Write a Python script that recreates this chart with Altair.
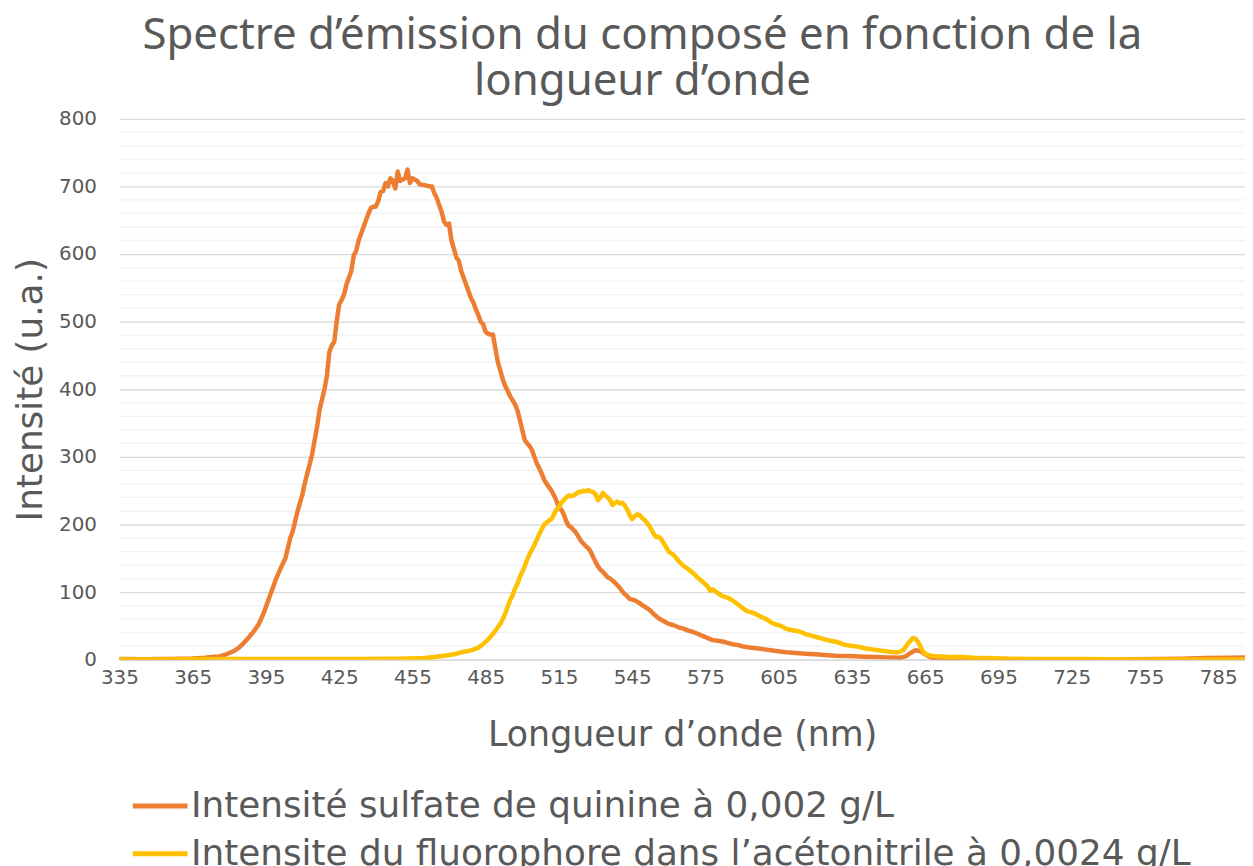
import altair as alt
import pandas as pd

S1 = "Intensité sulfate de quinine à 0,002 g/L"
S2 = "Intensite du fluorophore dans l’acétonitrile à 0,0024 g/L"

orange_nm = [335, 340, 345, 350, 355, 360, 365, 370, 373, 376, 378, 380, 382, 384, 386, 388, 390, 392, 394, 395,
             397, 399, 401, 403, 405, 406, 408, 410, 411, 413, 414, 416, 417, 418, 419, 420, 421, 422, 423, 424,
             425, 426, 427, 428, 429, 430, 431, 432, 433, 434, 435, 436, 437, 438, 439, 440, 441, 442, 443, 444,
             445, 446, 447, 448, 449, 450, 451, 452, 453, 454, 455, 456, 457, 458, 460, 462, 463, 464, 465, 466,
             467, 468, 469, 470, 471, 472, 473, 474, 475, 476, 477, 478, 479, 480, 481, 482, 483, 484, 485, 486,
             487, 488, 489, 490, 491, 492, 493, 494, 495, 496, 497, 498, 499, 500, 501, 502, 503, 504, 505, 506,
             507, 508, 509, 510, 511, 512, 513, 514, 515, 516, 517, 518, 519, 520, 521, 522, 523, 524, 525, 526,
             527, 528, 529, 530, 531, 532, 533, 534, 535, 536, 537, 538, 539, 540, 541, 542, 543, 544, 545, 546,
             547, 548, 549, 550, 552, 554, 556, 558, 560, 562, 564, 566, 568, 570, 572, 574, 576, 578, 580, 582,
             584, 586, 588, 590, 593, 596, 600, 604, 608, 612, 616, 620, 624, 628, 632, 636, 640, 645, 650, 655,
             657, 659, 661, 663, 665, 667, 669, 672, 680, 690, 700, 720, 740, 760, 770, 780, 790, 796]
orange_val = [1, 1, 0.5, 1, 1, 1.5, 2, 3, 4, 5, 7, 10, 13, 18, 25, 33, 42, 52, 68, 78,
              98, 118, 135, 150, 180, 190, 220, 245, 262, 290, 305, 345, 370, 385, 400, 420, 455, 465, 470, 500,
              525, 532, 540, 555, 565, 575, 598, 605, 620, 630, 640, 650, 660, 668, 670, 670, 678, 692, 693, 705,
              700, 712, 708, 697, 722, 708, 710, 712, 725, 705, 712, 710, 708, 703, 702, 700, 700, 690, 683, 672,
              662, 648, 643, 645, 620, 608, 595, 590, 575, 565, 555, 545, 535, 528, 518, 510, 500, 496, 485, 482,
              481, 481, 460, 440, 428, 415, 405, 398, 390, 384, 378, 369, 355, 340, 325, 320, 316, 310, 300, 290,
              283, 275, 266, 260, 255, 250, 243, 235, 226, 222, 215, 205, 198, 196, 192, 188, 182, 176, 172, 168,
              165, 160, 152, 145, 138, 133, 130, 126, 122, 120, 117, 114, 110, 106, 101, 97, 94, 90, 89, 88,
              86, 84, 81, 79, 74, 67, 61, 57, 53, 51, 48, 46, 43, 41, 38, 35, 32, 29, 28, 27,
              25, 23, 22, 20, 18, 17, 15, 13, 11, 10, 9, 8, 7, 6, 5.5, 5, 4.5, 4, 3.5, 3,
              5, 10, 14, 13, 8, 4, 2, 1.5, 1, 1, 0.5, 0.5, 0.5, 1, 1.5, 2.5, 3, 3.5]

yellow_nm = [335, 350, 370, 400, 430, 450, 460, 464, 468, 472, 475, 478, 480, 482, 484, 486, 488, 490, 491, 492,
             493, 494, 495, 496, 497, 498, 499, 500, 501, 502, 503, 504, 505, 506, 507, 508, 509, 510, 511, 512,
             513, 514, 515, 516, 517, 518, 519, 520, 521, 522, 523, 524, 525, 526, 527, 528, 529, 530, 531, 532,
             533, 534, 535, 536, 537, 538, 539, 540, 541, 542, 543, 544, 545, 546, 547, 548, 549, 550, 551, 552,
             553, 554, 555, 556, 557, 558, 559, 560, 562, 564, 566, 568, 570, 572, 574, 576, 577, 578, 580, 582,
             584, 586, 588, 590, 592, 594, 596, 598, 600, 602, 604, 606, 608, 610, 612, 614, 616, 618, 620, 622,
             624, 626, 628, 630, 632, 634, 636, 638, 640, 642, 644, 646, 648, 650, 652, 654, 656, 658, 660, 661,
             662, 663, 664, 665, 667, 670, 675, 680, 685, 690, 700, 710, 730, 750, 770, 785, 796]
yellow_val = [0.5, 0.5, 1, 1, 1, 1.5, 2.5, 4, 6, 8, 11, 13, 15, 18, 23, 30, 38, 48, 53, 60,
              68, 78, 88, 95, 105, 112, 122, 130, 138, 148, 156, 163, 170, 178, 186, 193, 200, 203, 206, 208,
              215, 222, 226, 232, 236, 240, 243, 242, 243, 245, 248, 248, 250, 249, 251, 249, 248, 245, 236, 240,
              247, 243, 240, 236, 229, 232, 234, 231, 232, 228, 222, 214, 208, 212, 215, 214, 210, 207, 203, 198,
              192, 185, 181, 182, 178, 172, 166, 160, 155, 146, 139, 134, 128, 121, 115, 108, 102, 104, 99, 94,
              92, 88, 83, 77, 72, 70, 67, 63, 60, 55, 52, 50, 46, 44, 43, 41, 38, 36, 34, 32,
              30, 28, 27, 25, 22, 21, 20, 19, 17, 16, 15, 14, 13, 12, 11, 11, 14, 24, 32, 31,
              27, 20, 13, 9, 6, 5, 4, 4, 3, 2.5, 1.5, 1, 1, 0.5, 0.5, 0.5, 0.5]

x_ticks = [335, 365, 395, 425, 455, 485, 515, 545, 575, 605, 635, 665, 695, 725, 755, 785]
y_major = [0, 100, 200, 300, 400, 500, 600, 700, 800]
y_minor = [20, 40, 60, 80, 120, 140, 160, 180, 220, 240, 260, 280, 320, 340, 360, 380,
           420, 440, 460, 480, 520, 540, 560, 580, 620, 640, 660, 680, 720, 740, 760, 780]

df = pd.concat([
    pd.DataFrame({"nm": orange_nm, "val": orange_val, "series": S1}),
    pd.DataFrame({"nm": yellow_nm, "val": yellow_val, "series": S2}),
])
minor_df = pd.DataFrame({"v": y_minor})

TFONT = "Noto Sans"
FONT = "DejaVu Sans"
GRAY = "#595959"

xscale = alt.Scale(domain=[335, 796], nice=False, zero=False)
yscale = alt.Scale(domain=[0, 800], nice=False)

yaxis = alt.Axis(values=y_major, grid=True, gridColor="#D9D9D9", gridWidth=1.3,
                 ticks=False, tickSize=0, domain=False, labelPadding=23,
                 labelFont=FONT, labelFontSize=20, labelColor=GRAY,
                 title="Intensité (u.a.)", titleFont=FONT, titleFontSize=36,
                 titleFontWeight="normal", titleColor=GRAY, titlePadding=9)

minor = alt.Chart(minor_df).mark_rule(color="#F2F2F2", strokeWidth=1.3).encode(
    y=alt.Y("v:Q", scale=yscale, axis=yaxis)
)

lines = alt.Chart(df).mark_line(strokeWidth=4.5, clip=True, strokeJoin="round", strokeCap="round").encode(
    x=alt.X("nm:Q", scale=xscale,
            axis=alt.Axis(values=x_ticks, grid=False, ticks=False, tickSize=0, domain=True,
                          domainColor="#D9D9D9", domainWidth=1.3, labelPadding=8,
                          labelFont=FONT, labelFontSize=20, labelColor=GRAY, labelFlush=False,
                          title="Longueur d’onde (nm)", titleFont=FONT, titleFontSize=35,
                          titleFontWeight="normal", titleColor=GRAY, titlePadding=30)),
    y=alt.Y("val:Q", scale=yscale, axis=yaxis),
    color=alt.Color("series:N", scale=alt.Scale(domain=[S1, S2], range=["#ED7D31", "#FFC000"]),
                    legend=alt.Legend(title=None, orient="none", legendX=11, legendY=661,
                                      direction="vertical", symbolType="stroke", symbolSize=3025,
                                      symbolStrokeWidth=5, labelFont=FONT, labelFontSize=36,
                                      labelColor=GRAY, labelLimit=2000, rowPadding=-17,
                                      padding=0, labelOffset=1)),
)

chart = alt.layer(minor, lines).properties(
    width=1132, height=544,
    autosize=alt.AutoSizeParams(type="none"),
    padding={"left": 112, "top": 109, "right": 0, "bottom": 205},
    title=alt.TitleParams(["Spectre d’émission du composé en fonction de la", "longueur d’onde"],
                          font=TFONT, fontSize=44, fontWeight="normal", color=GRAY,
                          anchor="middle", dx=-40, offset=5, lineHeight=46),
).configure_view(stroke=None)

chart.save("out.html", embed_options={"renderer": "svg", "actions": False})
